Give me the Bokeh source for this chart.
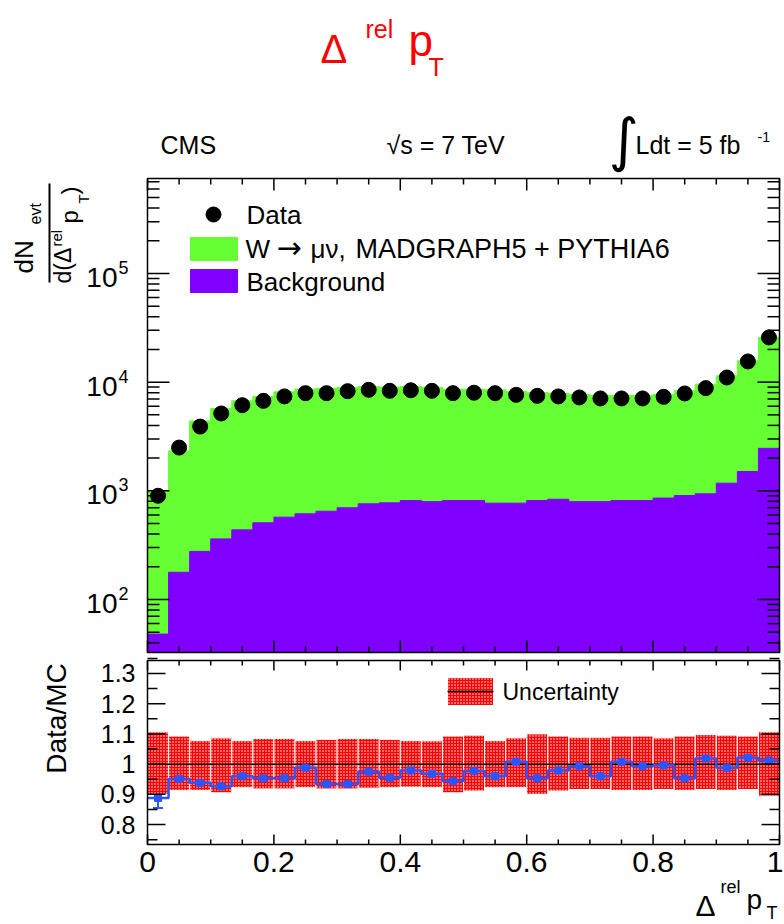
import math
import numpy as np
from bokeh.plotting import figure
from bokeh.layouts import column
from bokeh.models import Range1d, Label, Whisker, TeeHead, ColumnDataSource
from bokeh.embed import file_html
from bokeh.resources import INLINE

# ---------------- data ----------------
n_bins = 30
x_lo, x_hi = 0.0, 1.0
data_counts = [900, 2500, 3900, 5150, 6140, 6730, 7390, 7920, 7920, 8260,
               8500, 8320, 8410, 8320, 7920, 7990, 7920, 7640, 7480, 7390,
               7230, 7080, 7080, 7080, 7320, 7870, 8810, 11040, 15500, 25770]
mc_total = [1000, 2330, 4400, 5730, 6730, 7390, 8140, 8620, 8750, 8940,
            9100, 9000, 9100, 8950, 8600, 8600, 8500, 8200, 8000, 7900,
            7700, 7550, 7550, 7550, 7700, 8320, 9580, 11430, 15700, 25800]
background = [48, 178, 277, 361, 437, 508, 572, 614, 649, 698,
              759, 775, 814, 795, 814, 814, 770, 770, 814, 836,
              795, 795, 814, 814, 857, 904, 938, 1175, 1505, 2460]
ratio = [0.888, 0.951, 0.938, 0.927, 0.960, 0.953, 0.953, 0.988, 0.934, 0.934,
         0.975, 0.955, 0.979, 0.968, 0.944, 0.977, 0.960, 1.008, 0.953, 0.979,
         0.993, 0.960, 1.008, 0.993, 0.996, 0.953, 1.019, 0.988, 1.021, 1.012]
ratio_err = [0.033, 0.022, 0.013, 0.012, 0.012, 0.010, 0.010, 0.012, 0.011, 0.011,
             0.012, 0.010, 0.011, 0.010, 0.013, 0.011, 0.011, 0.012, 0.012, 0.011,
             0.011, 0.012, 0.011, 0.011, 0.011, 0.013, 0.011, 0.011, 0.010, 0.010]
unc_hi = [1.107, 1.093, 1.078, 1.087, 1.078, 1.085, 1.085, 1.078, 1.082, 1.085,
          1.085, 1.082, 1.078, 1.077, 1.093, 1.096, 1.078, 1.087, 1.100, 1.093,
          1.089, 1.089, 1.093, 1.093, 1.087, 1.093, 1.098, 1.096, 1.093, 1.107]
unc_lo = [0.900, 0.913, 0.913, 0.905, 0.922, 0.918, 0.918, 0.922, 0.918, 0.918,
          0.920, 0.922, 0.924, 0.922, 0.905, 0.911, 0.922, 0.922, 0.900, 0.911,
          0.916, 0.916, 0.913, 0.913, 0.916, 0.913, 0.916, 0.913, 0.916, 0.894]
ref_value = 1.0
x_ticks = [0.0, 0.2, 0.4, 0.6, 0.8, 1.0]
x_tick_labels = ["0", "0.2", "0.4", "0.6", "0.8", "1"]
x_minor_step = 0.05
y_exponents = [2, 3, 4, 5]
ratio_ticks = [0.8, 0.9, 1.0, 1.1, 1.2, 1.3]
ratio_tick_labels = ["0.8", "0.9", "1", "1.1", "1.2", "1.3"]
ratio_minor_step = 0.05
legend_data = "Data"
legend_sig = ["W", "\u2192", "\u03bc\u03bd,", "MADGRAPH5 + PYTHIA6"]
legend_bkg = "Background"
unc_label = "Uncertainty"

# ---------------- layout (page pixels) ----------------
FONT = "Liberation Sans"
GREEN = "#66ff33"
PURPLE = "#7f00ff"
BLUE = "#2a55ff"
RED = "#ff0000"
PAGE_W, PAGE_H = 784, 924
SPLIT = 656                       # boundary between the two canvases
FR_L, FR_R = 147, 779
TOP_T, TOP_B = 178, 652
BOT_T, BOT_B = 660, 844
LOG_MIN, LOG_MAX = 1.512, 5.874
R_MIN, R_MAX = 0.734, 1.343
MID = 0.35                        # baseline -> middle offset, fraction of font size


def top_xy(px, py):
    x = x_lo + (px - FR_L) / (FR_R - FR_L) * (x_hi - x_lo)
    ly = LOG_MIN + (TOP_B - py) / (TOP_B - TOP_T) * (LOG_MAX - LOG_MIN)
    return x, 10 ** ly


def bot_xy(px, py):
    x = x_lo + (px - FR_L) / (FR_R - FR_L) * (x_hi - x_lo)
    y = R_MIN + (BOT_B - py) / (BOT_B - BOT_T) * (R_MAX - R_MIN)
    return x, y


def put(fig, conv, px, py, text, size, color="black", align="left",
        baseline="alphabetic", angle=0.0, font=FONT):
    if baseline == "alphabetic":
        # place by baseline: convert to a vertically centred anchor
        if angle == 0.0:
            py -= MID * size
        else:
            px -= MID * size
        baseline = "middle"
    x, y = conv(px, py)
    fig.add_layout(Label(x=x, y=y, text=text, text_font=font,
                         text_font_size=f"{size}px", text_color=color,
                         text_align=align, text_baseline=baseline, angle=angle))


def inner_ticks(fig, conv, ticks, side, length, frame):
    """Tick marks pointing into the plot box along one side."""
    left, right, top, bottom = frame
    if side in ("top", "bottom"):
        edge = top if side == "top" else bottom
        end = edge + length if side == "top" else edge - length
        _, y0 = conv(left, edge)
        _, y1 = conv(left, end)
        fig.segment(x0=ticks, x1=ticks, y0=[y0] * len(ticks), y1=[y1] * len(ticks),
                    line_color="black", line_width=1.5)
    else:
        edge = left if side == "left" else right
        end = edge + length if side == "left" else edge - length
        x0, _ = conv(edge, top)
        x1, _ = conv(end, top)
        fig.segment(x0=[x0] * len(ticks), x1=[x1] * len(ticks), y0=ticks, y1=ticks,
                    line_color="black", line_width=1.5)


def bare_figure(height, x_range, y_range, y_type):
    f = figure(width=PAGE_W, height=height, title=None, x_range=x_range,
               y_range=y_range, y_axis_type=y_type, output_backend="svg",
               toolbar_location=None, min_border=0)
    f.xaxis.visible = False
    f.yaxis.visible = False
    f.xgrid.visible = False
    f.ygrid.visible = False
    f.outline_line_color = None
    f.background_fill_color = "white"
    f.border_fill_color = "white"
    return f


edges = np.linspace(x_lo, x_hi, n_bins + 1)
centers = 0.5 * (edges[:-1] + edges[1:])
lefts, rights = edges[:-1], edges[1:]

x_minor = [round(v, 4) for v in np.arange(x_lo, x_hi + 1e-9, x_minor_step)]
x_minor_only = [v for v in x_minor if all(abs(v - t) > 1e-6 for t in x_ticks)]
log_major = [10 ** e for e in y_exponents]
log_minor = [m * 10 ** e for e in range(1, 6) for m in range(2, 10)
             if 10 ** LOG_MIN <= m * 10 ** e <= 10 ** LOG_MAX]
r_minor = [round(v, 4) for v in np.arange(0.75, 1.35, ratio_minor_step)]
r_minor_only = [v for v in r_minor if all(abs(v - t) > 1e-6 for t in ratio_ticks)]

# ---------------- top canvas: header + spectrum ----------------
p1 = bare_figure(SPLIT,
                 Range1d(top_xy(0, 0)[0], top_xy(PAGE_W, 0)[0]),
                 Range1d(top_xy(0, SPLIT)[1], top_xy(0, 0)[1]), "log")
y_floor = 10 ** LOG_MIN
y_ceil = 10 ** LOG_MAX
p1.quad(left=lefts, right=rights, bottom=[y_floor] * n_bins, top=mc_total,
        fill_color=GREEN, line_color=GREEN)
p1.quad(left=lefts, right=rights, bottom=[y_floor] * n_bins, top=background,
        fill_color=PURPLE, line_color=PURPLE)
p1.scatter(x=centers, y=data_counts, size=15, color="black")

F1 = (FR_L, FR_R, TOP_T, TOP_B)
inner_ticks(p1, top_xy, x_ticks, "top", 12, F1)
inner_ticks(p1, top_xy, x_minor_only, "top", 6, F1)
inner_ticks(p1, top_xy, x_ticks, "bottom", 12, F1)
inner_ticks(p1, top_xy, x_minor_only, "bottom", 6, F1)
inner_ticks(p1, top_xy, log_major, "left", 22, F1)
inner_ticks(p1, top_xy, log_minor, "left", 12, F1)
inner_ticks(p1, top_xy, log_major, "right", 22, F1)
inner_ticks(p1, top_xy, log_minor, "right", 12, F1)
p1.quad(left=[x_lo], right=[x_hi], bottom=[y_floor], top=[y_ceil],
        fill_color=None, line_color="black", line_width=1.5)

# legend
lx, ly = top_xy(213, 214)
p1.scatter(x=[lx], y=[ly], size=15, color="black")
for (y0, y1), col in (((237, 260), GREEN), ((269, 292), PURPLE)):
    xa, ya = top_xy(190, y1)
    xb, yb = top_xy(237, y0)
    p1.quad(left=[xa], right=[xb], bottom=[ya], top=[yb],
            fill_color=col, line_color=col)
put(p1, top_xy, 246, 214, legend_data, 26, baseline="middle")
put(p1, top_xy, 245, 248, legend_sig[0], 26, baseline="middle")
put(p1, top_xy, 276, 247, legend_sig[1], 30, baseline="middle", font="DejaVu Sans")
put(p1, top_xy, 310, 248, legend_sig[2], 26, baseline="middle")
put(p1, top_xy, 355, 248, legend_sig[3], 27, baseline="middle")
put(p1, top_xy, 246, 281, legend_bkg, 26, baseline="middle")

# y tick labels (10^n)
for e in y_exponents:
    ty = TOP_B - (e - LOG_MIN) / (LOG_MAX - LOG_MIN) * (TOP_B - TOP_T)
    put(p1, top_xy, 117, ty + 4, "10", 28, align="right", baseline="middle")
    put(p1, top_xy, 118, ty - 6, str(e), 18, align="left", baseline="middle")

# title and header texts
put(p1, top_xy, 320, 62, "\u0394", 40, color=RED)
put(p1, top_xy, 365, 37, "rel", 25, color=RED)
put(p1, top_xy, 408, 55, "p", 44, color=RED)
put(p1, top_xy, 428, 75, "T", 25, color=RED)
put(p1, top_xy, 160, 153, "CMS", 25)
put(p1, top_xy, 386, 153, "\u221as = 7 TeV", 25)
put(p1, top_xy, 623, 139, "\u222b", 58, align="center", baseline="middle",
    font="DejaVu Sans")
put(p1, top_xy, 635, 153, "Ldt  =  5 fb", 25)
put(p1, top_xy, 757, 141, "-1", 14)

# y axis title: dN_evt / d(Δ^rel p_T)
R90 = math.pi / 2
put(p1, top_xy, 33, 273, "dN", 26, angle=R90)
put(p1, top_xy, 41, 224, "evt", 16, angle=R90)
put(p1, top_xy, 71, 283, "d(\u0394", 23, angle=R90)
put(p1, top_xy, 61, 246, "rel", 15, angle=R90)
put(p1, top_xy, 77, 223, "p", 24, angle=R90)
put(p1, top_xy, 88, 203, "T", 15, angle=R90)
put(p1, top_xy, 77, 194, ")", 24, angle=R90)
fx, fy0 = top_xy(49, 282)
_, fy1 = top_xy(49, 183)
p1.segment(x0=[fx], x1=[fx], y0=[fy0], y1=[fy1], line_color="black", line_width=2)

# ---------------- bottom canvas: ratio ----------------
p2 = bare_figure(PAGE_H - SPLIT,
                 Range1d(bot_xy(0, 0)[0], bot_xy(PAGE_W, 0)[0]),
                 Range1d(bot_xy(0, PAGE_H)[1], bot_xy(0, SPLIT)[1]), "linear")

band_style = dict(fill_color=RED, hatch_pattern="dot", hatch_color="white",
                  hatch_scale=3, hatch_weight=1, line_color="white", line_width=1)
p2.quad(left=lefts, right=rights, bottom=unc_lo, top=unc_hi, **band_style)
p2.line(x=[x_lo, x_hi], y=[ref_value, ref_value], line_color="black", line_width=1.5)
p2.step(x=list(edges), y=ratio + [ratio[-1]], mode="after",
        line_color=BLUE, line_width=2.5)
p2.scatter(x=centers, y=ratio, marker="square", size=7, color=BLUE)
src = ColumnDataSource(dict(x=centers,
                            lo=[r - e for r, e in zip(ratio, ratio_err)],
                            hi=[r + e for r, e in zip(ratio, ratio_err)]))
p2.add_layout(Whisker(source=src, base="x", lower="lo", upper="hi",
                      line_color=BLUE, line_width=2,
                      lower_head=TeeHead(size=10, line_color=BLUE, line_width=2),
                      upper_head=TeeHead(size=10, line_color=BLUE, line_width=2)))

F2 = (FR_L, FR_R, BOT_T, BOT_B)
inner_ticks(p2, bot_xy, x_ticks, "top", 10, F2)
inner_ticks(p2, bot_xy, x_minor_only, "top", 5, F2)
inner_ticks(p2, bot_xy, x_ticks, "bottom", 10, F2)
inner_ticks(p2, bot_xy, x_minor_only, "bottom", 5, F2)
inner_ticks(p2, bot_xy, ratio_ticks, "left", 18, F2)
inner_ticks(p2, bot_xy, r_minor_only, "left", 10, F2)
inner_ticks(p2, bot_xy, ratio_ticks, "right", 18, F2)
inner_ticks(p2, bot_xy, r_minor_only, "right", 10, F2)
p2.quad(left=[x_lo], right=[x_hi], bottom=[R_MIN], top=[R_MAX],
        fill_color=None, line_color="black", line_width=1.5)

# tick labels
for t, lab in zip(x_ticks, x_tick_labels):
    px = FR_L + (t - x_lo) / (x_hi - x_lo) * (FR_R - FR_L)
    if px + 9 > PAGE_W:
        put(p2, bot_xy, PAGE_W - 1, 851, lab, 30, align="right", baseline="top")
    else:
        put(p2, bot_xy, px, 851, lab, 30, align="center", baseline="top")
for t, lab in zip(ratio_ticks, ratio_tick_labels):
    py = BOT_B - (t - R_MIN) / (R_MAX - R_MIN) * (BOT_B - BOT_T)
    put(p2, bot_xy, 135, py, lab, 25, align="right", baseline="middle")

# legend
xa, ya = bot_xy(447, 705)
xb, yb = bot_xy(493, 677)
p2.quad(left=[xa], right=[xb], bottom=[ya], top=[yb], **band_style)
_, ym = bot_xy(447, 691)
p2.line(x=[xa, xb], y=[ym, ym], line_color="black", line_width=1.5)
put(p2, bot_xy, 502, 691, unc_label, 23, baseline="middle")

# axis titles
put(p2, bot_xy, 66, 718, "Data/MC", 28, align="center", angle=R90)
put(p2, bot_xy, 695, 915, "\u0394", 30)
put(p2, bot_xy, 720, 893, "rel", 18)
put(p2, bot_xy, 746, 909, "p", 28)
put(p2, bot_xy, 766, 919, "T", 18)

layout = column(p1, p2, spacing=0)
open("out.html", "w").write(file_html(layout, INLINE))
